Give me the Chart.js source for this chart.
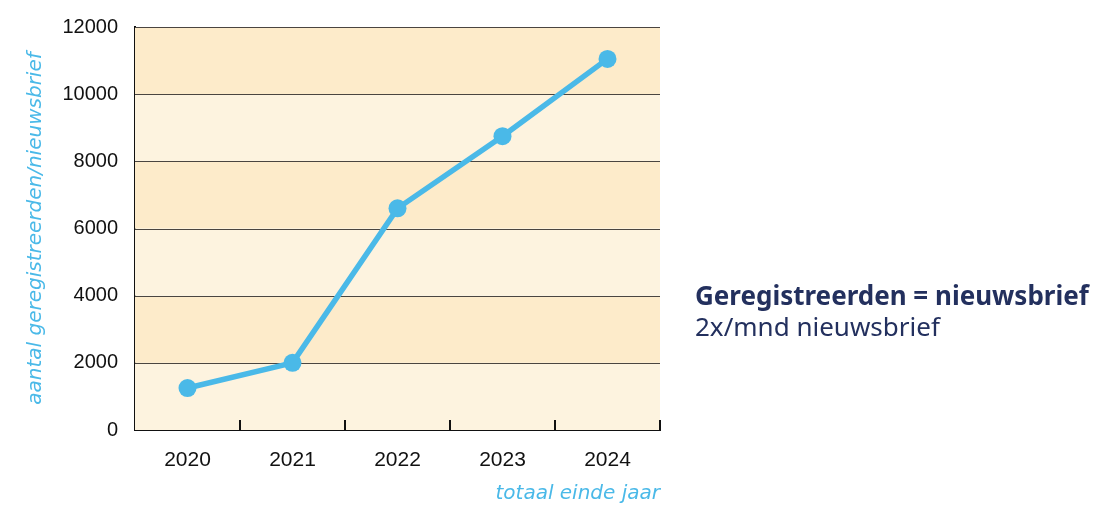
<!DOCTYPE html>
<html>
<head>
<meta charset="utf-8">
<script src="https://cdn.jsdelivr.net/npm/chart.js@4/dist/chart.umd.min.js"></script>
<style>
  html, body { margin: 0; padding: 0; background: #fff; }
  #wrap { position: relative; width: 1097px; height: 506px; }
  #side {
    position: absolute; left: 695px; top: 280px;
    font-family: "Noto Sans", sans-serif; color: #23305e; font-size: 26px; line-height: 31px;
  }
  #side b { font-weight: 700; }
</style>
</head>
<body>
<div id="wrap">
  <canvas id="chart" width="1097" height="506"></canvas>
  <div id="side"><b>Geregistreerden = nieuwsbrief</b><br>2x/mnd nieuwsbrief</div>
</div>
<script>
// ===== Data =====
const years = ['2020', '2021', '2022', '2023', '2024'];
const registered = [1250, 2000, 6600, 8750, 11050];
const yTicks = [0, 2000, 4000, 6000, 8000, 10000, 12000];

const LINE_BLUE = '#4ab9e8';
const BAND_DARK = '#fdebca';
const BAND_LIGHT = '#fdf3df';

// alternating background bands + inward x tick marks
const bandsPlugin = {
  id: 'bands',
  beforeDatasetsDraw(chart) {
    const { ctx, chartArea, scales } = chart;
    ctx.save();
    for (let i = 0; i < yTicks.length - 1; i++) {
      const yTop = scales.y.getPixelForValue(yTicks[i + 1]);
      const yBot = scales.y.getPixelForValue(yTicks[i]);
      ctx.fillStyle = i % 2 === 0 ? BAND_LIGHT : BAND_DARK;
      ctx.fillRect(chartArea.left, yTop, chartArea.right - chartArea.left, yBot - yTop);
    }
    // grid lines on top of the bands
    ctx.strokeStyle = '#4a4540';
    ctx.lineWidth = 1.2;
    yTicks.slice(1).forEach(v => {
      const py = Math.round(scales.y.getPixelForValue(v)) + 0.5;
      ctx.beginPath();
      ctx.moveTo(chartArea.left, py);
      ctx.lineTo(chartArea.right, py);
      ctx.stroke();
    });
    ctx.restore();
  },
  afterDraw(chart) {
    const { ctx, chartArea, scales } = chart;
    const x = scales.x;
    const half = (x.getPixelForValue(1) - x.getPixelForValue(0)) / 2;
    ctx.save();
    ctx.strokeStyle = '#111';
    ctx.lineWidth = 2;
    for (let i = 0; i < years.length; i++) {
      const px = x.getPixelForValue(i) + half;
      ctx.beginPath();
      ctx.moveTo(px, chartArea.bottom);
      ctx.lineTo(px, chartArea.bottom - 10);
      ctx.stroke();
    }
    ctx.restore();
  },
};

new Chart(document.getElementById('chart'), {
  type: 'line',
  data: {
    labels: years,
    datasets: [{
      data: registered,
      borderColor: LINE_BLUE,
      backgroundColor: LINE_BLUE,
      borderWidth: 5.5,
      pointRadius: 9,
      pointHoverRadius: 9,
      pointBorderWidth: 0,
      tension: 0,
    }],
  },
  options: {
    responsive: false,
    animation: false,
    layout: { padding: { left: 0, top: 27, right: 437, bottom: 0 } },
    plugins: { legend: { display: false }, tooltip: { enabled: false } },
    scales: {
      x: {
        offset: true,
        grid: { display: true, drawOnChartArea: false, drawTicks: false },
        border: { display: true, color: '#111', width: 2 },
        ticks: { color: '#111', padding: 18, font: { family: 'Liberation Sans', size: 21 } },
        title: {
          display: true, text: 'totaal einde jaar', align: 'end', color: LINE_BLUE,
          padding: { top: 0, bottom: 0 },
          font: { family: 'DejaVu Sans', style: 'italic', size: 20 },
        },
        afterFit: (s) => { s.height = 76; },
      },
      y: {
        min: 0, max: 12000,
        afterBuildTicks: (s) => { s.ticks = yTicks.map(v => ({ value: v })); },
        grid: { display: false },
        border: { display: true, color: '#111', width: 2 },
        ticks: {
          color: '#111', padding: 9, font: { family: 'Liberation Sans', size: 20 },
          callback: (v) => String(v),
        },
        title: {
          display: true, text: 'aantal geregistreerden/nieuwsbrief', color: LINE_BLUE,
          padding: { top: 24, bottom: 0 },
          font: { family: 'DejaVu Sans', style: 'italic', size: 20 },
        },
        afterFit: (s) => { s.width = 135; },
      },
    },
  },
  plugins: [bandsPlugin],
});
</script>
</body>
</html>
